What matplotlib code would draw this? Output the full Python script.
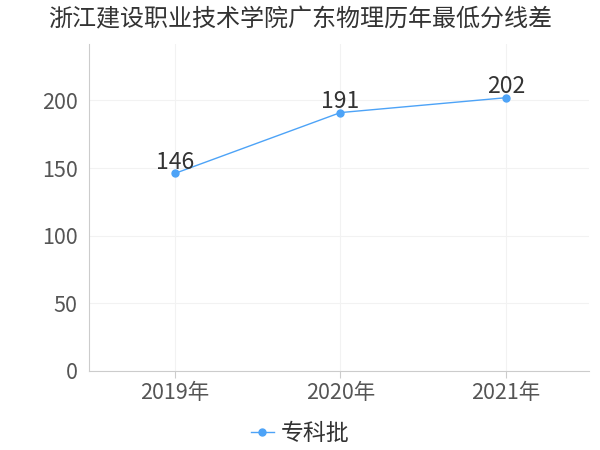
import matplotlib.pyplot as plt

plt.rcParams['font.family'] = ['Noto Sans CJK SC', 'DejaVu Sans']

years = ["2019年", "2020年", "2021年"]
scores = [146, 191, 202]
series_name = "专科批"
title = "浙江建设职业技术学院广东物理历年最低分线差"

fig = plt.figure(figsize=(6, 4.5), dpi=100)
ax = fig.add_axes([0.148, 0.176, 0.833, 0.727])

x = list(range(len(years)))
ax.plot(x, scores, color="#4da3f7", linewidth=1, marker="o", markersize=5, label=series_name)
for xi, v in zip(x, scores):
    ax.text(xi, v - 0.5, str(v), ha="center", va="bottom", fontsize=16.5, color="#333333")

ax.set_xlim(-0.52, 2.5)
ax.set_ylim(0, 242)
ax.set_xticks(x)
ax.set_xticklabels(years)
ax.set_yticks([0, 50, 100, 150, 200])
ax.tick_params(axis="both", labelsize=15.5, colors="#555555")
ax.tick_params(axis="y", length=0, pad=8)
ax.tick_params(axis="x", length=5, color="#cccccc", pad=3)
ax.grid(True, color="#f2f2f2", linewidth=0.8)
for s in ["top", "right"]:
    ax.spines[s].set_visible(False)
ax.spines["left"].set_color("#cccccc")
ax.spines["bottom"].set_color("#cccccc")

fig.suptitle(title, fontsize=17.3, color="#333333", y=0.985)
fig.legend(loc="lower center", bbox_to_anchor=(0.5, -0.035), frameon=False, fontsize=16.5,
           handlelength=1.0, handletextpad=0.3, labelcolor="#333333")

fig.savefig("out.png", dpi=100)
